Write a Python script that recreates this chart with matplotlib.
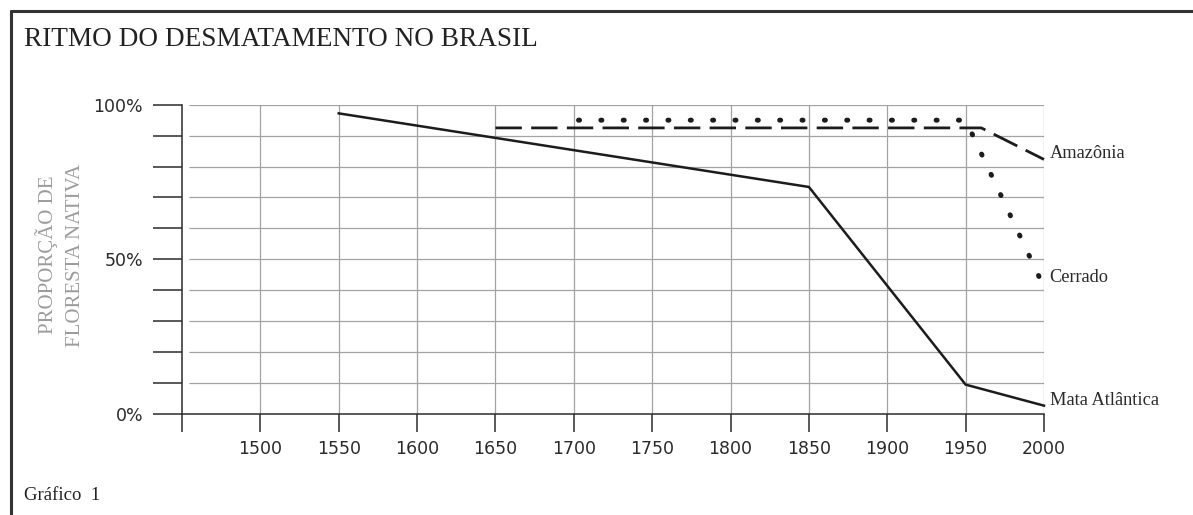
# LIBRARIES ***********************************************************************************************

import numpy as np  # arrays
import matplotlib
matplotlib.use('Agg')
import matplotlib.pyplot as plt  # plotting
from matplotlib.lines import Line2D

# DATA ******************************************************************************************************

mata_anos = [1550, 1850, 1950, 2000]
mata_pct = [97.2, 73.4, 9.5, 2.7]

amazonia_anos = [1650, 1960, 2000]
amazonia_pct = [92.5, 92.5, 82.3]

cerrado_anos = [1703, 1950, 2000]
cerrado_pct = [95.0, 95.0, 41.0]

x_ticks = [1450, 1500, 1550, 1600, 1650, 1700, 1750, 1800, 1850, 1900, 1950, 2000]
x_labels = ['', '1500', '1550', '1600', '1650', '1700', '1750', '1800', '1850', '1900', '1950', '2000']
y_ticks = [0, 10, 20, 30, 40, 50, 60, 70, 80, 90, 100]
y_labels = ['0%', '', '', '', '', '50%', '', '', '', '', '100%']

serie_nomes = ['Amazônia', 'Cerrado', 'Mata Atlântica']

# FIGURE ****************************************************************************************************

W, H = 1193, 515
fig = plt.figure(figsize=(W / 100, H / 100), dpi=100)
fig.patch.set_facecolor('white')

# axes placed in pixel terms: y axis at x=182, 2000 at x=1044, 100% at y=104.7, 0% at y=414
ax_l, ax_r, ax_t, ax_b = 182, 1044, 104.7, 414
ax = fig.add_axes([ax_l / W, 1 - ax_b / H, (ax_r - ax_l) / W, (ax_b - ax_t) / H])
ax.set_xlim(1450, 2000)
ax.set_ylim(0, 100)
ax.patch.set_alpha(0)

dark = '#2b2b2b'
grid_c = '#a3a3a3'

# grid: horizontal lines start a little right of the y axis
gap_years = 7 / (ax_r - ax_l) * 550
ax.hlines(y_ticks[1:], 1450 + gap_years, 2000, colors=grid_c, linewidth=0.9, zorder=1)
ax.vlines(x_ticks[1:], 0, 100, colors=grid_c, linewidth=0.9, zorder=1)

# spines
for s in ['top', 'right']:
    ax.spines[s].set_visible(False)
for s in ['left', 'bottom']:
    ax.spines[s].set_color(dark)
    ax.spines[s].set_linewidth(1.1)
    ax.spines[s].set_zorder(3)

ax.set_xticks(x_ticks)
ax.set_xticklabels(x_labels)
ax.set_yticks(y_ticks)
ax.set_yticklabels(y_labels)
ax.tick_params(axis='x', direction='out', length=13, width=1.1, color=dark, pad=6,
               labelsize=12.5, labelcolor='#2a2a2a')
ax.tick_params(axis='y', direction='out', length=21, width=1.1, color=dark, pad=7,
               labelsize=12.5, labelcolor='#2a2a2a')
for lab in ax.get_xticklabels() + ax.get_yticklabels():
    lab.set_family('DejaVu Sans')

# SERIES ****************************************************************************************************

line_c = '#1c1c1c'
ax.plot(mata_anos, mata_pct, color=line_c, linewidth=1.8, solid_joinstyle='miter', zorder=4, clip_on=False)
ax.plot(amazonia_anos, amazonia_pct, color=line_c, linewidth=2.0, linestyle=(0, (9.5, 3.35)),
        zorder=4, clip_on=False)
# dotted line: short "on" dash with round caps gives round dots
ax.plot(cerrado_anos, cerrado_pct, color=line_c, linewidth=3.6, linestyle=(0, (0.2, 4.27)),
        dash_capstyle='round', zorder=4, clip_on=False)

# series labels at the right end of each line
label_dy = [4.5, 7, 3.5]
for nome, ys, dy in zip(serie_nomes, [amazonia_pct, cerrado_pct, mata_pct], label_dy):
    ax.annotate(nome, xy=(2000, ys[-1]), xytext=(4, dy), textcoords='offset points',
                ha='left', va='center', fontsize=13.2, family='Liberation Serif',
                color='#2a2a2a', annotation_clip=False)

# TEXTS & FRAME *********************************************************************************************

fig.text(24 / W, 1 - 46 / H, 'RITMO DO DESMATAMENTO NO BRASIL', ha='left', va='baseline',
         fontsize=19.6, family='Liberation Serif', color='#222222')
fig.text(24 / W, 1 - 500 / H, 'Gráfico  1', ha='left', va='baseline',
         fontsize=13.5, family='Liberation Serif', color='#222222')
fig.text(60 / W, 1 - 255 / H, 'PROPORÇÃO DE\nFLORESTA NATIVA', ha='center', va='center',
         rotation=90, multialignment='center', linespacing=1.6,
         fontsize=15, family='Liberation Serif', color='#9c9c9c')

# thick frame lines on top and left
fig.add_artist(Line2D([10 / W, 1], [1 - 10.5 / H, 1 - 10.5 / H], color='#333333', linewidth=2.2,
                      transform=fig.transFigure, solid_capstyle='butt'))
fig.add_artist(Line2D([10.5 / W, 10.5 / W], [0, 1 - 9.5 / H], color='#333333', linewidth=2.2,
                      transform=fig.transFigure, solid_capstyle='butt'))

fig.savefig('out.png', dpi=100, facecolor='white')
